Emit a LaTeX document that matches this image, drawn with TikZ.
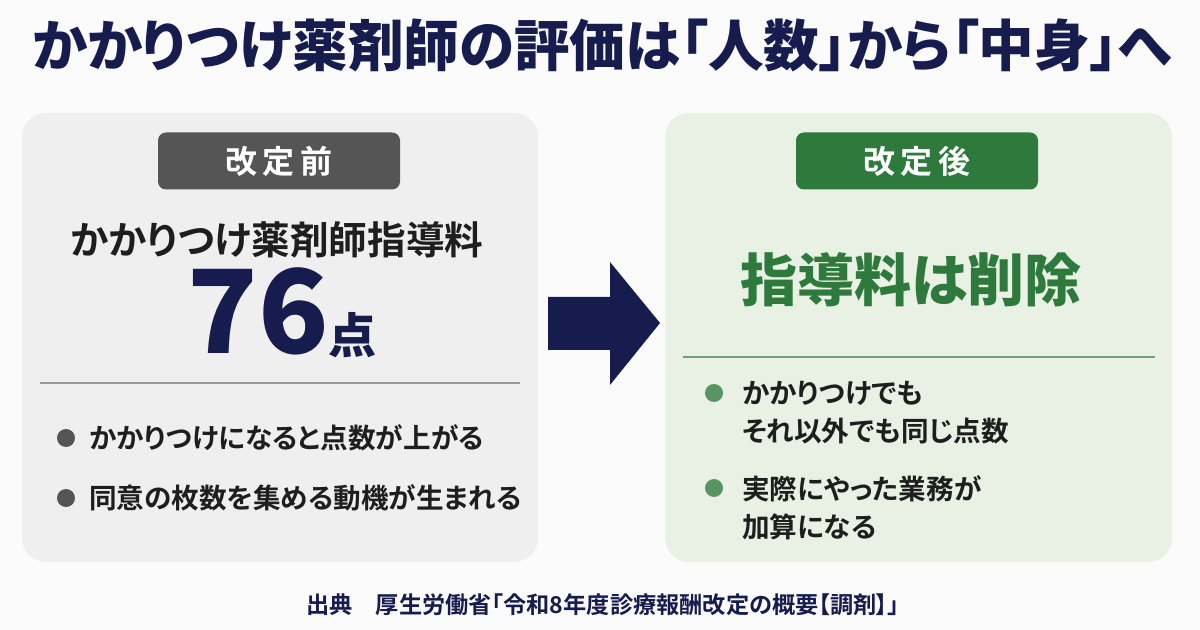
\documentclass[tikz,border=0pt]{standalone}
\usepackage{fontspec}
\newfontfamily\jpb{Noto Sans CJK JP Bold}[RawFeature=+palt]
\newfontfamily\jpt{Noto Sans CJK JP Black}[RawFeature=+palt]
\definecolor{navy}{HTML}{161C4E}
\definecolor{gbg}{HTML}{EFEFEF}
\definecolor{glab}{HTML}{555555}
\definecolor{lgbg}{HTML}{E8F1E4}
\definecolor{green}{HTML}{2E7A3C}
\definecolor{txt}{HTML}{1E1E1E}
\begin{document}
\begin{tikzpicture}[x=0.5pt,y=-0.5pt,
  panel/.style={rounded corners=12pt,draw=none},
  lab/.style={rounded corners=4pt,minimum width=121pt,minimum height=28.5pt,text=white,font=\jpb\fontsize{16}{16}\selectfont},
  bul/.style={anchor=west,text=txt,font=\jpb\fontsize{13.8}{19}\selectfont,align=left},
  dot/.style={circle,inner sep=0pt,minimum size=9pt}]
\useasboundingbox (0,0) rectangle (1200,630);
\fill[white!97!gray] (0,0) rectangle (1200,630);
\node (title) at (602,45) {\jpt\fontsize{27.8}{27.8}\selectfont\color{navy}かかりつけ薬剤師の評価は「人数」から「中身」へ};
% left
\fill[panel,gbg] (22,113) rectangle (538,562);
\node[lab,fill=glab] (l1) at (279,161) {改\,定\,前};
\node (l2) at (277,240) {\jpb\fontsize{19.3}{19.3}\selectfont\color{txt}かかりつけ薬剤師指導料};
\node (l3) at (282,313) {\jpt\fontsize{58}{58}\selectfont\color{navy}76\fontsize{24}{24}\selectfont 点};
\draw[gray!80,line width=1pt] (40,383) -- (520,383);
\node[dot,fill=glab] (b1) at (66,438) {};
\node[bul] (t1) at (82,438) {かかりつけになると点数が上がる};
\node[dot,fill=glab] (b2) at (66,498) {};
\node[bul] (t2) at (82,498) {同意の枚数を集める動機が生まれる};
% arrow
\fill[navy] (548,297) -- (610,297) -- (610,262) -- (660,323) -- (610,385) -- (610,350) -- (548,350) -- cycle;
% right
\fill[panel,lgbg] (665,113) rectangle (1172,562);
\node[lab,fill=green] (r1) at (917,161) {改\,定\,後};
\node (r2) at (911,280) {\jpt\fontsize{28.5}{28.5}\selectfont\color{green}指導料は削除};
\draw[green!70,line width=1pt] (683,357) -- (1155,357);
\node[dot,fill=green!80] (b3) at (714,393) {};
\node[bul,anchor=north west] (t3) at (735,374) {かかりつけでも\\それ以外でも同じ点数};
\node[dot,fill=green!80] (b4) at (714,488) {};
\node[bul,anchor=north west] (t4) at (735,469) {実際にやった業務が\\加算になる};
\node (src) at (603,605) {\jpb\fontsize{11.6}{11.6}\selectfont\color{navy}出典\quad 厚生労働省「令和8年度診療報酬改定の概要【調剤】」};
\end{tikzpicture}
\end{document}
